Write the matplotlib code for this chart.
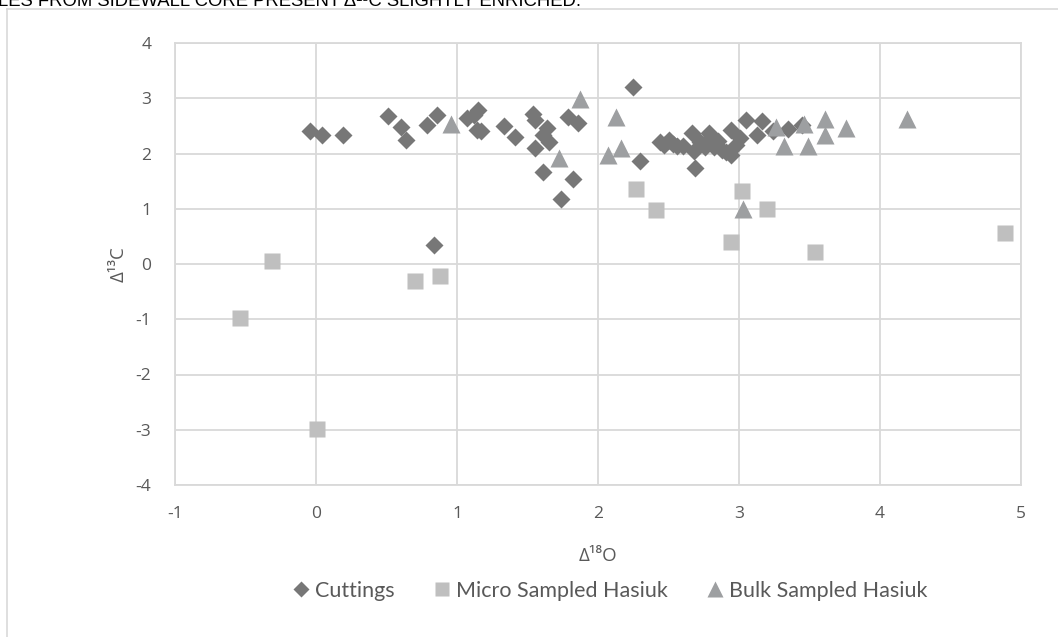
import matplotlib
matplotlib.use('Agg')
import matplotlib.pyplot as plt
from matplotlib.lines import Line2D

plt.rcParams['axes.unicode_minus'] = False

# cuttings (diamonds)
cut_x = [-0.04, 0.04, 0.19, 0.51, 0.60, 0.64, 0.79, 0.86, 0.84,
         1.07, 1.12, 1.15, 1.14, 1.17, 1.33, 1.41, 1.54, 1.55, 1.64, 1.61,
         1.55, 1.65, 1.61, 1.82, 1.74, 1.79, 1.86, 2.25, 2.30,
         2.44, 2.47, 2.50, 2.53, 2.56, 2.60, 2.67, 2.69, 2.68, 2.72, 2.76,
         2.79, 2.80, 2.82, 2.85, 2.88, 2.91, 2.94, 2.94, 2.98, 3.01, 3.05,
         3.13, 3.16, 3.24, 3.35, 3.45]
cut_y = [2.40, 2.34, 2.33, 2.68, 2.48, 2.25, 2.52, 2.70, 0.35,
         2.64, 2.70, 2.78, 2.42, 2.40, 2.49, 2.30, 2.72, 2.60, 2.46, 2.34,
         2.10, 2.20, 1.67, 1.54, 1.18, 2.66, 2.55, 3.21, 1.87,
         2.20, 2.15, 2.25, 2.17, 2.14, 2.13, 2.37, 1.74, 2.05, 2.20, 2.12,
         2.38, 2.30, 2.12, 2.22, 2.06, 2.03, 2.43, 1.98, 2.15, 2.28, 2.61,
         2.34, 2.58, 2.40, 2.44, 2.52]

# micro sampled (squares)
micro_x = [-0.54, -0.31, 0.01, 0.70, 0.88, 2.27, 2.41, 2.94, 3.02, 3.20, 3.54, 4.89]
micro_y = [-0.97, 0.06, -2.98, -0.30, -0.22, 1.35, 0.98, 0.40, 1.33, 1.00, 0.22, 0.56]

# bulk sampled (triangles)
bulk_x = [0.96, 1.72, 1.87, 2.07, 2.13, 2.16, 3.03, 3.26, 3.32, 3.46, 3.49, 3.61, 3.61, 3.76, 4.19]
bulk_y = [2.53, 1.92, 2.99, 1.98, 2.66, 2.10, 1.00, 2.48, 2.14, 2.53, 2.14, 2.62, 2.33, 2.46, 2.63]

xticks = [-1, 0, 1, 2, 3, 4, 5]
yticks = [-4, -3, -2, -1, 0, 1, 2, 3, 4]

W, H = 1058, 637
fig = plt.figure(figsize=(W / 100, H / 100), dpi=100)
ax = fig.add_axes([175 / W, 1 - 485 / H, (1021 - 175) / W, (485 - 43) / H])

grid_c = '#d9d9d9'
txt_c = '#595959'
fam = ['Open Sans', 'DejaVu Sans']

ax.plot(cut_x, cut_y, 'D', ms=9, color='#777777', mec='none', label='Cuttings', zorder=3)
ax.plot(micro_x, micro_y, 's', ms=12, color='#bfbfbf', mec='none', label='Micro Sampled Hasiuk', zorder=3)
ax.plot(bulk_x, bulk_y, '^', ms=13, color='#9d9fa1', mec='none', label='Bulk Sampled Hasiuk', zorder=3)

ax.set_xlim(-1, 5)
ax.set_ylim(-4, 4)
ax.set_xticks(xticks)
ax.set_yticks(yticks)
ax.grid(True, color=grid_c, lw=1.3)
ax.set_axisbelow(True)
for s in ax.spines.values():
    s.set_color(grid_c)
    s.set_linewidth(1.3)
ax.tick_params(length=0, labelsize=12.5, labelcolor=txt_c)
ax.tick_params(axis='y', pad=17)
ax.tick_params(axis='x', pad=15)
for lab in ax.get_xticklabels() + ax.get_yticklabels():
    lab.set_family(fam)

ax.set_xlabel('Δ¹⁸O', fontsize=13.5, color=txt_c, family=fam, labelpad=18)
ax.set_ylabel('Δ¹³C', fontsize=13.5, color=txt_c, family=fam, labelpad=6)

leg = fig.legend(loc='center', bbox_to_anchor=(608 / W, 1 - 591 / H), ncol=3,
                 frameon=False, handletextpad=0.05, columnspacing=1.6,
                 handlelength=1.2,
                 prop={'family': ['Lato', 'DejaVu Sans'], 'size': 15.5},
                 markerscale=0.85)
for t in leg.get_texts():
    t.set_color(txt_c)

# outer chart frame and cut-off caption above it
fig.add_artist(Line2D([7 / W, 7 / W], [0, 1 - 9 / H], color=grid_c, lw=1.2))
fig.add_artist(Line2D([7 / W, 1], [1 - 9 / H, 1 - 9 / H], color=grid_c, lw=1.2))
fig.text(-2 / W, 1 - 6 / H, 'LES FROM SIDEWALL CORE PRESENT Δ¹³C SLIGHTLY ENRICHED.',
         fontsize=13.3, family=['Liberation Sans', 'DejaVu Sans'], color='#000000',
         va='baseline', ha='left')

fig.savefig('out.png', dpi=100)
